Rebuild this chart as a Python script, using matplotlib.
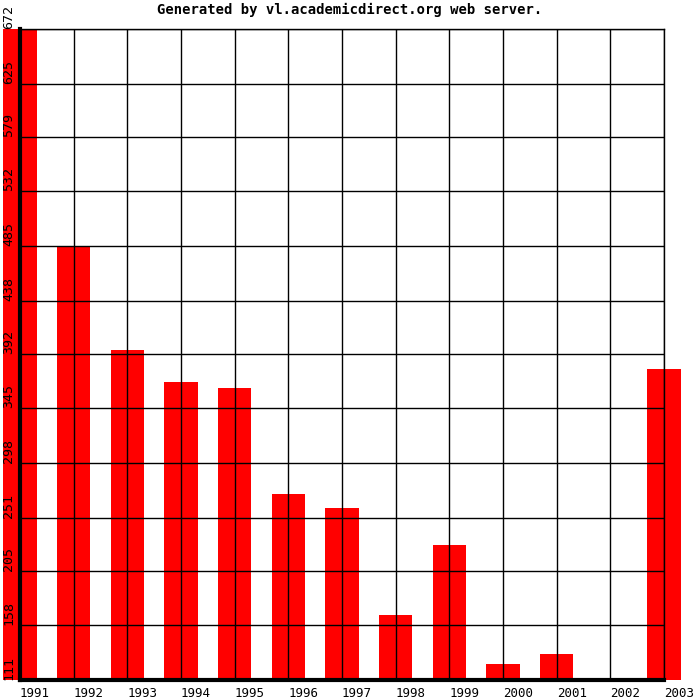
import matplotlib
matplotlib.use("Agg")
import matplotlib.pyplot as plt
from matplotlib.transforms import blended_transform_factory

# ---- data ----
years  = ["1991", "1992", "1993", "1994", "1995", "1996", "1997",
          "1998", "1999", "2000", "2001", "2002", "2003"]
counts = [672, 485, 395, 368, 363, 271, 259, 167, 227, 125, 133, 111, 379]
yticks = [111, 158, 205, 251, 298, 345, 392, 438, 485, 532, 579, 625, 672]

MONO = "DejaVu Sans Mono"

fig = plt.figure(figsize=(7, 7), dpi=100)
ax = fig.add_axes([20 / 700, 20 / 700, 644 / 700, 651 / 700])

ymin, ymax = min(yticks), max(yticks)
x = list(range(len(years)))

ax.bar(x, [c - ymin for c in counts], bottom=ymin, width=0.62,
       color="#ff0000", zorder=0.5, clip_on=False)

ax.set_xlim(0, len(years) - 1)
ax.set_ylim(ymin, ymax)

ax.set_xticks(x)
ax.set_xticklabels(years, ha="left", fontfamily=MONO, fontsize=9)
ax.tick_params(axis="x", length=0, pad=5)
ax.set_yticks(yticks)
ax.set_yticklabels([])
ax.tick_params(axis="y", length=0)

# rotated y labels, sitting just above each grid line at the far left
trans = blended_transform_factory(fig.transFigure, ax.transData)
for v in yticks:
    ax.text(8.5 / 700, v, str(v), transform=trans, rotation=90,
            ha="center", va="bottom", fontfamily=MONO, fontsize=9.5,
            zorder=5, clip_on=False)

ax.grid(True, color="black", linewidth=1, zorder=2)
ax.set_axisbelow(False)

for side in ["top", "right"]:
    ax.spines[side].set_linewidth(1)
for side in ["left", "bottom"]:
    ax.spines[side].set_linewidth(3)
    ax.spines[side].set_zorder(3)

fig.text(0.5, 1 - 10 / 700, "Generated by vl.academicdirect.org web server.",
         ha="center", va="center", fontfamily=MONO, fontweight="bold",
         fontsize=10)

fig.savefig("out.png", dpi=100)
